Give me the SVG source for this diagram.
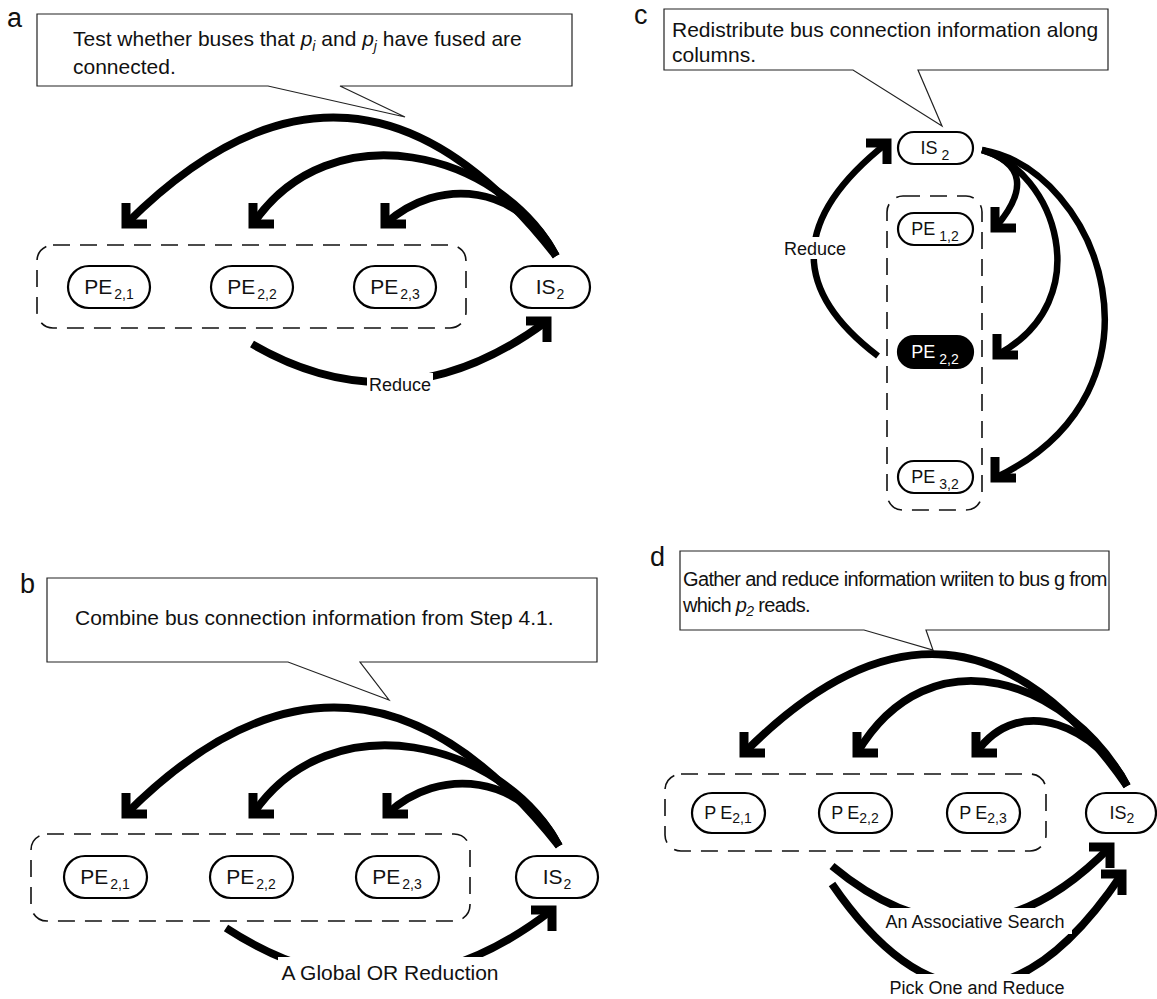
<svg xmlns="http://www.w3.org/2000/svg" width="1157" height="999" viewBox="0 0 1157 999">
  <style>
    text { font-family: "Liberation Sans", Arial, Helvetica, sans-serif; fill: #111; }
    .panel { font-size: 27px; }
    .callout { fill: #fff; stroke: #222; stroke-width: 1.2; }
    .ctext { font-size: 21px; }
    .ctext-d { font-size: 20px; letter-spacing: -0.65px; }
    .group { fill: none; stroke: #111; stroke-width: 1.6; stroke-dasharray: 17 10; }
    .pill { fill: #fff; stroke: #000; stroke-width: 2.2; }
    .pill-dark { fill: #000; stroke: #000; stroke-width: 2.2; }
    .nlabel { font-size: 21px; }
    .nlabel-sm { font-size: 18px; }
    .sub { font-size: 14px; }
    .arc { fill: none; stroke: #000; stroke-width: 7.8; }
    .arc-thin { fill: none; stroke: #000; stroke-width: 6.5; }
    .elabel { font-size: 18px; }
    .elabel-lg { font-size: 21px; }
    .bg { fill: #fff; }
    .head { fill: none; stroke: #000; stroke-width: 9; stroke-linejoin: miter; stroke-linecap: butt; }
  </style>
  <defs>
    <!-- chevron heads drawn with fixed orientation: legs along the axes -->
    <marker id="tipDL" markerUnits="userSpaceOnUse" viewBox="-30 -30 60 60" markerWidth="60" markerHeight="60" refX="0" refY="0" orient="0">
      <path class="head" d="M0,-21 V0 H21"/>
    </marker>
    <marker id="tipUR" markerUnits="userSpaceOnUse" viewBox="-30 -30 60 60" markerWidth="60" markerHeight="60" refX="0" refY="0" orient="0">
      <path class="head" d="M-21,0 H0 V21"/>
    </marker>
  </defs>

  <rect width="1157" height="999" fill="#fff"/>

  <!-- ===================== panel a ===================== -->
  <g id="panel-a">
    <text class="panel" x="7" y="27">a</text>
    <g id="a-note">
      <path class="callout" d="M37,14 H572 V86 H340 L405,117 L268,86 H37 Z"/>
      <text class="ctext" x="73" y="46">Test whether buses that <tspan font-style="italic">p</tspan><tspan font-style="italic" class="sub" dy="5">i</tspan><tspan dy="-5"> and </tspan><tspan font-style="italic">p</tspan><tspan font-style="italic" class="sub" dy="5">j</tspan><tspan dy="-5"> have fused are</tspan></text>
      <text class="ctext" x="73" y="74">connected.</text>
    </g>
    <rect id="a-row" class="group" x="37" y="245" width="429" height="83" rx="16"/>
    <g id="a-pe21">
      <rect class="pill" x="68" y="266" width="82" height="42" rx="21"/>
      <text class="nlabel" x="109" y="294" text-anchor="middle">PE<tspan class="sub" dx="2" dy="5">2,1</tspan></text>
    </g>
    <g id="a-pe22">
      <rect class="pill" x="211" y="266" width="82" height="42" rx="21"/>
      <text class="nlabel" x="252" y="294" text-anchor="middle">PE<tspan class="sub" dx="2" dy="5">2,2</tspan></text>
    </g>
    <g id="a-pe23">
      <rect class="pill" x="354" y="266" width="82" height="42" rx="21"/>
      <text class="nlabel" x="395" y="294" text-anchor="middle">PE<tspan class="sub" dx="2" dy="5">2,3</tspan></text>
    </g>
    <g id="a-is2">
      <rect class="pill" x="511" y="266" width="79" height="42" rx="21"/>
      <text class="nlabel" x="550" y="294" text-anchor="middle">IS<tspan class="sub" dx="1" dy="5">2</tspan></text>
    </g>
    <g id="a-edges">
      <path class="arc" d="M556,256 Q354,-4 126,224" marker-end="url(#tipDL)"/>
      <path class="arc" d="M556,256 C500,150 330,110 253,224" marker-end="url(#tipDL)"/>
      <path class="arc" d="M556,256 C520,185 440,175 385,224" marker-end="url(#tipDL)"/>
      <path class="arc" d="M252,344 Q400,430 547,321" marker-end="url(#tipUR)"/>
      <rect class="bg" x="367" y="373" width="66" height="23"/>
      <text class="elabel" x="400" y="391" text-anchor="middle">Reduce</text>
    </g>
  </g>

  <!-- ===================== panel b ===================== -->
  <g id="panel-b">
    <text class="panel" x="20" y="593">b</text>
    <g id="b-note">
      <path class="callout" d="M47,578 H597 V662 H360 L389,700 L288,662 H47 Z"/>
      <text class="ctext" x="75" y="625">Combine bus connection information from Step 4.1.</text>
    </g>
    <rect id="b-row" class="group" x="31" y="834" width="439" height="87" rx="16"/>
    <g id="b-pe21">
      <rect class="pill" x="64" y="856" width="83" height="42" rx="21"/>
      <text class="nlabel" x="105" y="884" text-anchor="middle">PE<tspan class="sub" dx="2" dy="5">2,1</tspan></text>
    </g>
    <g id="b-pe22">
      <rect class="pill" x="210" y="856" width="83" height="42" rx="21"/>
      <text class="nlabel" x="251" y="884" text-anchor="middle">PE<tspan class="sub" dx="2" dy="5">2,2</tspan></text>
    </g>
    <g id="b-pe23">
      <rect class="pill" x="356" y="856" width="83" height="42" rx="21"/>
      <text class="nlabel" x="397" y="884" text-anchor="middle">PE<tspan class="sub" dx="2" dy="5">2,3</tspan></text>
    </g>
    <g id="b-is2">
      <rect class="pill" x="516" y="856" width="82" height="42" rx="21"/>
      <text class="nlabel" x="557" y="884" text-anchor="middle">IS<tspan class="sub" dx="1" dy="5">2</tspan></text>
    </g>
    <g id="b-edges">
      <path class="arc" d="M559,846 Q354,586 126,814" marker-end="url(#tipDL)"/>
      <path class="arc" d="M559,846 C503,740 330,700 253,814" marker-end="url(#tipDL)"/>
      <path class="arc" d="M559,846 C523,775 440,765 387,814" marker-end="url(#tipDL)"/>
      <path class="arc" d="M226,928 Q390,1035 552,910" marker-end="url(#tipUR)"/>
      <rect class="bg" x="278" y="957" width="224" height="28"/>
      <text class="elabel-lg" x="390" y="980" text-anchor="middle">A Global OR Reduction</text>
    </g>
  </g>

  <!-- ===================== panel c ===================== -->
  <g id="panel-c">
    <text class="panel" x="634" y="24">c</text>
    <g id="c-note">
      <path class="callout" d="M664,9 H1108 V70 H918 L942,126 L853,70 H664 Z"/>
      <text class="ctext" x="672" y="37">Redistribute bus connection information along</text>
      <text class="ctext" x="672" y="62">columns.</text>
    </g>
    <rect id="c-col" class="group" x="887" y="196" width="95" height="314" rx="16"/>
    <g id="c-is2">
      <rect class="pill" x="898" y="132" width="75" height="32" rx="16"/>
      <text class="nlabel-sm" x="935" y="154" text-anchor="middle">IS<tspan class="sub" dx="4" dy="6">2</tspan></text>
    </g>
    <g id="c-pe12">
      <rect class="pill" x="898" y="213" width="75" height="32" rx="16"/>
      <text class="nlabel-sm" x="935" y="235" text-anchor="middle">PE<tspan class="sub" dx="4" dy="6">1,2</tspan></text>
    </g>
    <g id="c-pe22">
      <rect class="pill-dark" x="898" y="336" width="75" height="32" rx="16"/>
      <text class="nlabel-sm" x="935" y="358" text-anchor="middle" style="fill:#fff">PE<tspan class="sub" dx="4" dy="6" style="fill:#fff">2,2</tspan></text>
    </g>
    <g id="c-pe32">
      <rect class="pill" x="898" y="461" width="75" height="32" rx="16"/>
      <text class="nlabel-sm" x="935" y="483" text-anchor="middle">PE<tspan class="sub" dx="4" dy="6">3,2</tspan></text>
    </g>
    <g id="c-edges">
      <path class="arc-thin" d="M878,356 Q745,255 887,143" marker-end="url(#tipUR)"/>
      <rect class="bg" x="782" y="237" width="66" height="22"/>
      <text class="elabel" x="815" y="255" text-anchor="middle">Reduce</text>
      <path class="arc-thin" d="M982,150 Q1045,170 995,228" marker-end="url(#tipDL)"/>
      <path class="arc-thin" d="M982,150 C1055,170 1100,300 997,355" marker-end="url(#tipDL)"/>
      <path class="arc-thin" d="M982,150 C1100,170 1180,390 995,478" marker-end="url(#tipDL)"/>
    </g>
  </g>

  <!-- ===================== panel d ===================== -->
  <g id="panel-d">
    <text class="panel" x="650" y="566">d</text>
    <g id="d-note">
      <path class="callout" d="M680,551 H1109 V630 H926 L933,650 L864,630 H680 Z"/>
      <text class="ctext-d" x="683" y="586">Gather and reduce information wriiten to bus g from</text>
      <text class="ctext-d" x="683" y="612">which <tspan font-style="italic">p</tspan><tspan font-style="italic" class="sub" dy="4">2</tspan><tspan dy="-4"> reads.</tspan></text>
    </g>
    <rect id="d-row" class="group" x="665" y="774" width="381" height="77" rx="16"/>
    <g id="d-pe21">
      <rect class="pill" x="692" y="793" width="73" height="40" rx="20"/>
      <text class="nlabel-sm" x="728" y="819" text-anchor="middle">P<tspan dx="4">E</tspan><tspan class="sub" font-size="13" dy="4">2,1</tspan></text>
    </g>
    <g id="d-pe22">
      <rect class="pill" x="819" y="793" width="73" height="40" rx="20"/>
      <text class="nlabel-sm" x="855" y="819" text-anchor="middle">P<tspan dx="4">E</tspan><tspan class="sub" font-size="13" dy="4">2,2</tspan></text>
    </g>
    <g id="d-pe23">
      <rect class="pill" x="947" y="793" width="73" height="40" rx="20"/>
      <text class="nlabel-sm" x="983" y="819" text-anchor="middle">P<tspan dx="4">E</tspan><tspan class="sub" font-size="13" dy="4">2,3</tspan></text>
    </g>
    <g id="d-is2">
      <rect class="pill" x="1086" y="793" width="70" height="40" rx="20"/>
      <text class="nlabel-sm" x="1122" y="819" text-anchor="middle">IS<tspan class="sub" dy="4">2</tspan></text>
    </g>
    <g id="d-edges">
      <path class="arc" d="M1127,786 Q956,540 744,753" marker-end="url(#tipDL)"/>
      <path class="arc" d="M1127,786 C1070,680 930,630 857,753" marker-end="url(#tipDL)"/>
      <path class="arc" d="M1127,786 C1100,730 1020,690 976,753" marker-end="url(#tipDL)"/>
      <path class="arc" d="M832,866 Q975,985 1110,847" marker-end="url(#tipUR)"/>
      <path class="arc" d="M832,884 Q975,1092 1122,874" marker-end="url(#tipUR)"/>
      <rect class="bg" x="878" y="908" width="194" height="26"/>
      <text class="elabel" x="975" y="928" text-anchor="middle">An Associative Search</text>
      <rect class="bg" x="882" y="974" width="190" height="25"/>
      <text class="elabel" x="977" y="994" text-anchor="middle">Pick One and Reduce</text>
    </g>
  </g>
</svg>
